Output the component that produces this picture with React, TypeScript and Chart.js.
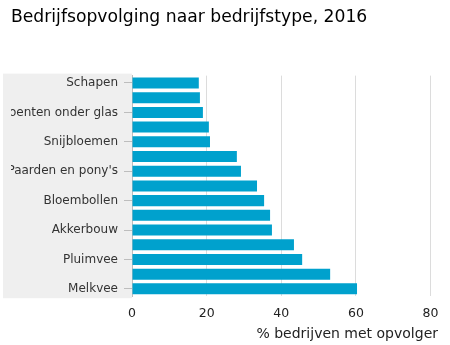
import React, { useEffect, useRef } from "react";
import { Chart, registerables } from "chart.js";

Chart.register(...registerables);

const title = "Bedrijfsopvolging naar bedrijfstype, 2016";
const axisTitle = "% bedrijven met opvolger";

const categories = [
  "Schapen",
  "Geiten",
  "Groenten onder glas",
  "Fruitteelt",
  "Snijbloemen",
  "Opengrondsgroenten",
  "Paarden en pony's",
  "Boomkwekerij",
  "Bloembollen",
  "Vleesvee",
  "Akkerbouw",
  "Vleeskalveren",
  "Pluimvee",
  "Varkens",
  "Melkvee",
];

const values = [17.9, 18.2, 19.0, 20.6, 20.9, 28.1, 29.2, 33.5, 35.4, 37.0, 37.5, 43.4, 45.6, 53.1, 60.3];

const xTicks = [0, 20, 40, 60, 80];

const FONT = "'DejaVu Sans', Verdana, sans-serif";

export default function App() {
  const ref = useRef<HTMLCanvasElement>(null);

  useEffect(() => {
    document.body.style.margin = "0";
    const bgPlugin = {
      id: "labelBg",
      beforeDraw(chart: any) {
        const { ctx, chartArea } = chart;
        ctx.save();
        ctx.fillStyle = "#efefef";
        ctx.fillRect(3, chartArea.top - 2, chartArea.left - 3, chartArea.bottom - chartArea.top + 4);
        ctx.restore();
      },
    };

    const chart = new Chart(ref.current!, {
      type: "bar",
      data: {
        labels: categories,
        datasets: [
          {
            data: values,
            backgroundColor: "#00a1cd",
            borderWidth: 0,
            categoryPercentage: 1,
            barPercentage: 0.75,
          },
        ],
      },
      plugins: [bgPlugin],
      options: {
        indexAxis: "y",
        responsive: false,
        animation: false,
        layout: { padding: { left: 11, right: 12, top: 0, bottom: 0 } },
        plugins: {
          legend: { display: false },
          tooltip: { enabled: false },
          title: {
            display: true,
            text: title,
            align: "start",
            color: "#000",
            font: { family: FONT, size: 17.2, weight: "normal" },
            padding: { top: 7, bottom: 48 },
          },
        },
        scales: {
          x: {
            min: 0,
            max: 82,
            afterBuildTicks: (s: any) => {
              s.ticks = xTicks.map((v) => ({ value: v }));
            },
            grid: { color: "#dcdcdc", drawTicks: false },
            border: { display: false },
            ticks: { color: "#222", padding: 10, font: { family: FONT, size: 12.5 } },
            title: {
              display: true,
              text: axisTitle,
              align: "end",
              color: "#222",
              font: { family: FONT, size: 14 },
              padding: { top: -5, bottom: 2 },
            },
          },
          y: {
            afterFit: (s: any) => {
              s.width = 121;
            },
            grid: {
              offset: false,
              drawOnChartArea: false,
              drawTicks: true,
              tickLength: 8,
              color: (c: any) => (c.index % 2 === 0 ? "#bdbdbd" : "rgba(0,0,0,0)"),
            },
            border: { display: true, color: "#bdbdbd", width: 1 },
            ticks: {
              autoSkip: false,
              padding: 6,
              color: "#333",
              font: { family: FONT, size: 12 },
              callback: (_v: any, i: number) => (i % 2 === 0 ? categories[i] : ""),
            },
          },
        },
      },
    } as any);
    return () => chart.destroy();
  }, []);

  return (
    <div style={{ width: 450, height: 345 }}>
      <canvas ref={ref} width={450} height={345} style={{ display: "block" }} />
    </div>
  );
}
